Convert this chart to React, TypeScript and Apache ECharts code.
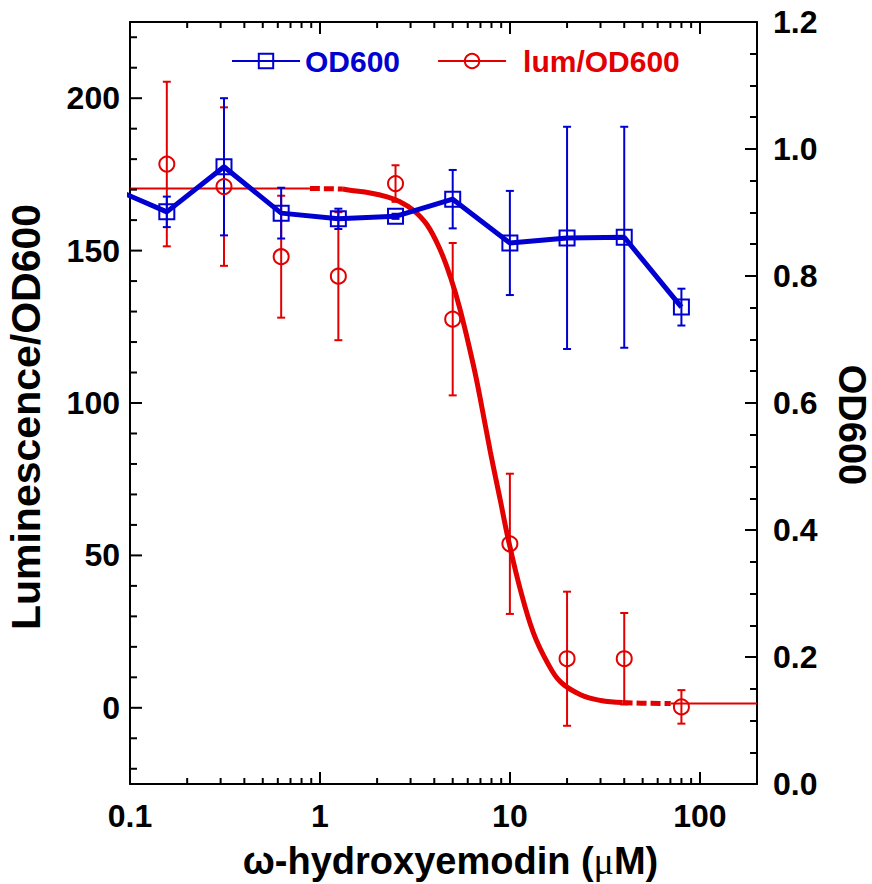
import React, { useEffect, useRef } from 'react';
import * as echarts from 'echarts';

// ---- data ----
const odConc = [0.078125, 0.15625, 0.3125, 0.625, 1.25, 2.5, 5, 10, 20, 40, 80];
const od600 = [0.94, 0.901, 0.972, 0.899, 0.89, 0.894, 0.921, 0.852, 0.86, 0.861, 0.751];
const od600Err = [0, 0.024, 0.108, 0.04, 0.016, 0.004, 0.046, 0.082, 0.175, 0.174, 0.029];

const lumConc = [0.15625, 0.3125, 0.625, 1.25, 2.5, 5, 10, 20, 40, 80];
const lumOD = [178.4, 171, 148, 141.6, 172, 127.5, 53.8, 16.1, 16.1, 0.3];
const lumErr = [27, 26, 20, 21, 6, 25, 23, 22, 15, 5.5];

// fitted curve
const fitTopThin = [[0.1, 170.4], [0.885, 170.4]];
const fitTopDash = [[0.885, 170.4], [1.32, 170.2]];
const fitCurve = [
  [1.32, 170.2], [1.44, 169.8], [1.84, 168.9], [2.26, 167.6], [2.64, 166.0], [3.1, 163.3],
  [3.67, 158.4], [4.3, 150.2], [4.86, 141.4], [5.48, 130.5], [6.42, 112.5], [6.98, 101.5],
  [7.89, 84.0], [8.91, 68.0], [9.82, 55.1], [11.36, 38.7], [13.3, 24.6], [15.77, 14.8],
  [18.47, 8.5], [23.55, 4.3], [30.05, 2.4], [39.2, 1.7],
];
const fitBotDash = [[39.2, 1.7], [48.8, 1.5], [70.3, 1.4]];
const fitBotThin = [[70.3, 1.4], [200, 1.4]];

// axis tick values
const xLabels = ['0.1', '1', '10', '100'];
const xMinorTicks = [0.2, 0.3, 0.4, 0.5, 0.6, 0.7, 0.8, 0.9, 2, 3, 4, 5, 6, 7, 8, 9, 20, 30, 40, 50, 60, 70, 80, 90];
const leftTicks = [-20, -10, 0, 10, 20, 30, 40, 50, 60, 70, 80, 90, 100, 110, 120, 130, 140, 150, 160, 170, 180, 190, 200, 210, 220];
const leftLabels = [0, 50, 100, 150, 200];

const BLUE = '#0000d0';
const RED = '#e20000';
const FONT = '"Liberation Sans", Arial, sans-serif';

const errorBarSeries = (name: string, data: number[][], yAxisIndex: number, color: string) => ({
  type: 'custom',
  name,
  yAxisIndex,
  data,
  silent: true,
  z: 3,
  encode: { x: 0, y: [1, 2] },
  renderItem: (params: any, api: any) => {
    const x = api.value(0);
    const lo = api.coord([x, api.value(1)]);
    const hi = api.coord([x, api.value(2)]);
    const hw = 4;
    const style = { stroke: color, lineWidth: 2 };
    return {
      type: 'group',
      children: [
        { type: 'line', shape: { x1: lo[0], y1: lo[1], x2: hi[0], y2: hi[1] }, style },
        { type: 'line', shape: { x1: hi[0] - hw, y1: hi[1], x2: hi[0] + hw, y2: hi[1] }, style },
        { type: 'line', shape: { x1: lo[0] - hw, y1: lo[1], x2: lo[0] + hw, y2: lo[1] }, style },
      ],
    };
  },
});

export default function App() {
  const ref = useRef<HTMLDivElement>(null);
  useEffect(() => {
    if (!ref.current) return;
    const chart = echarts.init(ref.current, undefined, { renderer: 'svg' });

    const odErrData = odConc.slice(1).map((c, i) => [c, od600[i + 1] - od600Err[i + 1], od600[i + 1] + od600Err[i + 1]]);
    const lumErrData = lumConc.map((c, i) => [c, lumOD[i] - lumErr[i], lumOD[i] + lumErr[i]]);

    const axisLine = { show: true, onZero: false, lineStyle: { color: '#000', width: 2 } };
    const labelStyle = { color: '#000', fontSize: 32, fontWeight: 'bold', fontFamily: FONT };

    const option: any = {
      animation: false,
      backgroundColor: '#fff',
      grid: { left: 130, right: 115, top: 22, bottom: 100, containLabel: false, outerBoundsMode: 'none' },
      legend: {
        left: 226,
        top: 41,
        itemWidth: 68,
        itemHeight: 18,
        itemGap: 37,
        lineStyle: { width: 2, opacity: 1 },
        textStyle: { fontSize: 30, fontWeight: 'bold', fontFamily: FONT },
        data: [
          { name: 'OD600', textStyle: { color: BLUE } },
          { name: 'lum/OD600', textStyle: { color: RED, padding: [0, 0, 0, 12] } },
        ],
      },
      xAxis: [
        {
          type: 'log',
          logBase: 10,
          min: 0.1,
          max: 200,
          position: 'bottom',
          axisLine,
          axisTick: { show: true, inside: true, length: 12, lineStyle: { color: '#000', width: 2 } },
          splitLine: { show: false },
          axisLabel: {
            ...labelStyle,
            margin: 16,
            showMaxLabel: false,
            formatter: (v: number) => {
              const l = Math.log10(v);
              const r = Math.round(l);
              if (Math.abs(l - r) < 1e-6 && r >= -1 && r <= 2) return xLabels[r + 1];
              return '';
            },
          },
          name: 'ω-hydroxyemodin ({mu|μ}M)',
          nameLocation: 'middle',
          nameGap: 58,
          nameTextStyle: {
            color: '#000',
            fontSize: 38,
            fontWeight: 'bold',
            fontFamily: FONT,
            padding: [0, 0, 0, 14],
            rich: {
              mu: { fontSize: 38, fontWeight: 'normal', fontFamily: '"Liberation Serif", serif', color: '#000' },
            },
          },
        },
        {
          type: 'log',
          logBase: 10,
          min: 0.1,
          max: 200,
          position: 'top',
          axisLine,
          axisTick: { show: true, inside: true, length: 12, lineStyle: { color: '#000', width: 2 } },
          axisLabel: { show: false },
          splitLine: { show: false },
        },
      ],
      yAxis: [
        {
          type: 'value',
          min: -25,
          max: 225,
          position: 'left',
          axisLine,
          axisTick: { show: false },
          splitLine: { show: false },
          axisLabel: {
            ...labelStyle,
            margin: 10,
            showMinLabel: false,
            showMaxLabel: false,
            formatter: (v: number) => (leftLabels.indexOf(v) >= 0 ? String(v) : ''),
          },
          name: 'Luminescence/OD600',
          nameLocation: 'middle',
          nameGap: 84,
          nameTextStyle: { color: '#000', fontSize: 41, fontWeight: 'bold', fontFamily: FONT, padding: [0, 28, 0, 0] },
        },
        {
          type: 'value',
          min: 0,
          max: 1.2,
          interval: 0.2,
          position: 'right',
          axisLine,
          axisTick: { show: true, inside: true, length: 12, lineStyle: { color: '#000', width: 2 } },
          minorTick: { show: true, splitNumber: 4, length: 7, lineStyle: { color: '#000', width: 2 } },
          splitLine: { show: false },
          minorSplitLine: { show: false },
          axisLabel: { ...labelStyle, margin: 16, formatter: (v: number) => v.toFixed(1) },
          name: 'OD600',
          nameLocation: 'middle',
          nameRotate: -90,
          nameGap: 76,
          nameTextStyle: { color: '#000', fontSize: 38, fontWeight: 'bold', fontFamily: FONT, padding: [0, 0, 0, 44] },
        },
      ],
      series: [
        // minor ticks on x axes (top and bottom)
        {
          type: 'custom',
          name: 'xMinor',
          silent: true,
          z: 10,
          data: xMinorTicks.map((v) => [v, 0]),
          encode: { x: 0, y: 1 },
          renderItem: (params: any, api: any) => {
            const x = api.coord([api.value(0), 0])[0];
            const cs = params.coordSys;
            const style = { stroke: '#000', lineWidth: 2 };
            return {
              type: 'group',
              children: [
                { type: 'line', shape: { x1: x, y1: cs.y + cs.height, x2: x, y2: cs.y + cs.height - 6 }, style },
                { type: 'line', shape: { x1: x, y1: cs.y, x2: x, y2: cs.y + 6 }, style },
              ],
            };
          },
        },
        // ticks on the left axis
        {
          type: 'custom',
          name: 'leftTicks',
          silent: true,
          z: 10,
          data: leftTicks.map((v) => [1, v]),
          encode: { x: 0, y: 1 },
          renderItem: (params: any, api: any) => {
            const v = api.value(1);
            const y = api.coord([1, v])[1];
            const cs = params.coordSys;
            const len = v % 50 === 0 ? 12 : 7;
            return { type: 'line', shape: { x1: cs.x, y1: y, x2: cs.x + len, y2: y }, style: { stroke: '#000', lineWidth: 2 } };
          },
        },
        errorBarSeries('lumErr', lumErrData, 0, RED),
        errorBarSeries('odErr', odErrData, 1, BLUE),
        // fitted curve pieces
        {
          type: 'line', name: 'fit1', data: fitTopThin, showSymbol: false, symbol: 'none', silent: true, z: 2,
          lineStyle: { color: RED, width: 2 },
        },
        {
          type: 'line', name: 'fit2', data: fitTopDash, showSymbol: false, symbol: 'none', silent: true, z: 2,
          lineStyle: { color: RED, width: 5, type: [10, 4] },
        },
        {
          type: 'line', name: 'fit3', data: fitCurve, showSymbol: false, symbol: 'none', silent: true, z: 2,
          smooth: 0.4,
          lineStyle: { color: RED, width: 5 },
        },
        {
          type: 'line', name: 'fit4', data: fitBotDash, showSymbol: false, symbol: 'none', silent: true, z: 2,
          lineStyle: { color: RED, width: 5, type: [10, 4] },
        },
        {
          type: 'line', name: 'fit5', data: fitBotThin, showSymbol: false, symbol: 'none', silent: true, z: 2,
          lineStyle: { color: RED, width: 2 },
        },
        // OD600 line with squares (right axis)
        {
          type: 'line',
          name: 'OD600',
          yAxisIndex: 1,
          data: odConc.map((c, i) => [c, od600[i]]),
          clip: true,
          symbol: 'rect',
          symbolSize: 15,
          z: 4,
          lineStyle: { color: BLUE, width: 5 },
          itemStyle: { color: 'rgba(255,255,255,0)', borderColor: BLUE, borderWidth: 2 },
        },
        // lum/OD600 points (left axis)
        {
          type: 'line',
          name: 'lum/OD600',
          yAxisIndex: 0,
          data: lumConc.map((c, i) => [c, lumOD[i]]),
          symbol: 'circle',
          symbolSize: 15,
          z: 5,
          lineStyle: { color: RED, width: 2, opacity: 0 },
          itemStyle: { color: 'rgba(255,255,255,0)', borderColor: RED, borderWidth: 2 },
        },
      ],
    };
    chart.setOption(option);
    return () => chart.dispose();
  }, []);
  return <div ref={ref} style={{ position: 'fixed', left: 0, top: 0, width: 872, height: 884, background: '#fff' }} />;
}
